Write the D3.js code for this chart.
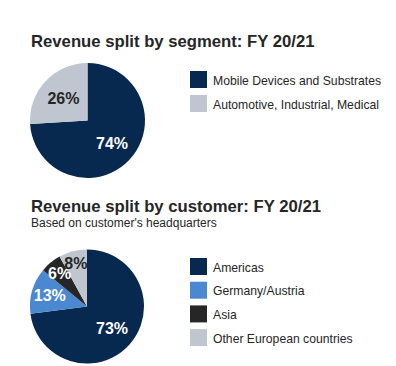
<!DOCTYPE html>
<meta charset="utf-8">
<script src="https://d3js.org/d3.v7.min.js"></script>
<style>
  body { margin: 0; background: #fff; }
  text { font-family: "Liberation Sans", Arial, sans-serif; }
</style>
<div id="chart"></div>
<script>
// segment split
var segCategories = ["Mobile Devices and Substrates", "Automotive, Industrial, Medical"];
var segValues = [74, 26];
var segColors = ["#08294f", "#bfc6d0"];
var segLabelColors = ["#ffffff", "#262626"];

// customer split
var custCategories = ["Americas", "Germany/Austria", "Asia", "Other European countries"];
var custValues = [73, 13, 6, 8];
var custColors = ["#08294f", "#4a88d2", "#262626", "#bfc6d0"];
var custLabelColors = ["#ffffff", "#ffffff", "#ffffff", "#262626"];

var svg = d3.select("#chart").append("svg")
    .attr("width", 396)
    .attr("height", 366);

var pie = d3.pie().sort(null).value(function(d) { return d; });

function drawBlock(opt) {
    var g = svg.append("g");

    g.append("text")
        .attr("x", 31).attr("y", opt.titleY)
        .attr("font-size", 16.7).attr("font-weight", "bold")
        .attr("fill", "#262626")
        .text(opt.title);

    if (opt.subtitle) {
        g.append("text")
            .attr("x", 31).attr("y", opt.titleY + 15)
            .attr("font-size", 12)
            .attr("fill", "#262626")
            .text(opt.subtitle);
    }

    var arc = d3.arc().innerRadius(0).outerRadius(opt.r);
    var arcs = pie(opt.values);

    var pg = g.append("g").attr("transform", "translate(" + opt.cx + "," + opt.cy + ")");
    pg.selectAll("path")
        .data(arcs)
        .enter().append("path")
        .attr("d", arc)
        .attr("fill", function(d, i) { return opt.colors[i]; });

    // label sits at centroid of an arc scaled by labelR (centroid = half of outer radius)
    pg.selectAll("text.lbl")
        .data(arcs)
        .enter().append("text")
        .attr("class", "lbl")
        .attr("transform", function(d, i) {
            var c = d3.arc().innerRadius(0).outerRadius(opt.r * opt.labelR[i]).centroid(d);
            return "translate(" + c[0] + "," + c[1] + ")";
        })
        .attr("dy", "0.36em")
        .attr("text-anchor", "middle")
        .attr("font-size", 16).attr("font-weight", "bold")
        .attr("fill", function(d, i) { return opt.labelColors[i]; })
        .text(function(d) { return d.data + "%"; });

    // legend
    var y = d3.scaleBand()
        .domain(opt.categories)
        .range([opt.legendY, opt.legendY + opt.categories.length * opt.legendStep]);

    var lg = g.selectAll("g.leg")
        .data(opt.categories)
        .enter().append("g")
        .attr("transform", function(d) { return "translate(190," + y(d) + ")"; });

    lg.append("rect")
        .attr("width", 17).attr("height", 17)
        .attr("fill", function(d, i) { return opt.colors[i]; });

    lg.append("text")
        .attr("x", 23).attr("y", 13.5)
        .attr("font-size", 12.2)
        .attr("fill", "#262626")
        .text(function(d) { return d; });
}

drawBlock({
    title: "Revenue split by segment: FY 20/21",
    titleY: 47,
    categories: segCategories,
    values: segValues,
    colors: segColors,
    labelColors: segLabelColors,
    labelR: [1.17, 1.15],
    cx: 87.5, cy: 120.5, r: 57.5,
    legendY: 71, legendStep: 24
});

drawBlock({
    title: "Revenue split by customer: FY 20/21",
    subtitle: "Based on customer's headquarters",
    titleY: 212,
    categories: custCategories,
    values: custValues,
    colors: custColors,
    labelColors: custLabelColors,
    labelR: [1.17, 1.36, 1.51, 1.58],
    cx: 87, cy: 306.5, r: 57,
    legendY: 258, legendStep: 23.7
});
</script>
